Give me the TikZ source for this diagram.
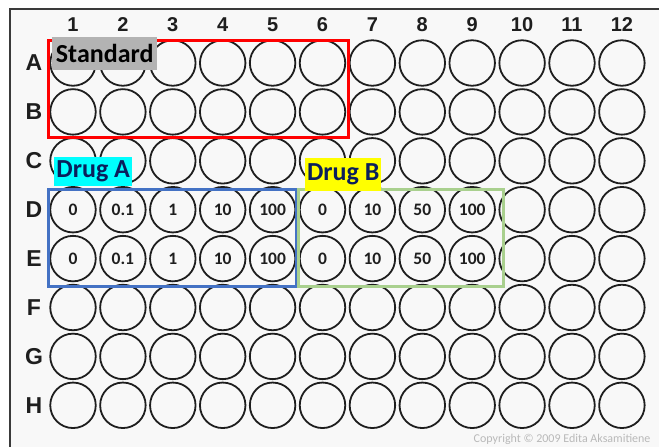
\documentclass[tikz,border=0pt]{standalone}
\usepackage{fontspec}
\setmainfont{Carlito}
\newfontfamily\platefont{Liberation Sans}
\usetikzlibrary{positioning}
\definecolor{plateBg}{HTML}{F8F8F8}
\definecolor{frameGray}{HTML}{3A3A3A}
\definecolor{wellInk}{HTML}{1E1E1E}
\definecolor{stdRed}{HTML}{FF0000}
\definecolor{drugABlue}{HTML}{4472C4}
\definecolor{drugBGreen}{HTML}{A9D08E}
\definecolor{stdGray}{HTML}{B3B3B3}
\definecolor{tagCyan}{HTML}{00FFFF}
\definecolor{tagYellow}{HTML}{FFFF00}
\definecolor{labNavy}{HTML}{0A1F5C}

\begin{document}
\begin{tikzpicture}[x=1pt, y=-1pt,
      well/.style={draw=wellInk, circle, line width=1.8pt, minimum size=45.5pt, inner sep=0pt},
      rowlab/.style={font=\platefont\fontsize{23}{26}\selectfont\bfseries, text=wellInk},
      collab/.style={font=\platefont\fontsize{20}{22}\selectfont\bfseries, text=wellInk},
      conc/.style={font=\fontsize{17.5}{19}\selectfont\bfseries, text=wellInk},
      tag/.style={anchor=north west, inner sep=0pt, font=\fontsize{26}{28}\selectfont\bfseries},
      zone/.style={line width=3pt}]
    \useasboundingbox (0,0) rectangle (659,447);
    % ---- plate body
    \fill[white] (0,0) rectangle (659,447);
    \fill[plateBg] (10,9) rectangle (659,447);
    \draw[frameGray, line width=1.5pt] (10,447) -- (10,9) -- (659,9);
    % ---- column numbers
    \foreach \c in {1,...,12}
      \node[collab] (col\c) at ({73+49.9*(\c-1)}, 25) {\c};
    % ---- rows of wells
    \foreach \r [count=\i from 0] in {A,B,C,D,E,F,G,H} {
      \node[rowlab] (lab\r) at (34, {63+48.9*\i}) {\r};
      \foreach \c in {1,...,12}
        \node[well] (\r\c) at ({73+49.9*(\c-1)}, {63+48.9*\i}) {};
    }
    % ---- concentrations
    \foreach \c/\v in {1/0, 2/0.1, 3/1, 4/10, 5/100, 6/0, 7/10, 8/50, 9/100} {
      \node[conc] (dD\c) at (D\c.center) {\v};
      \node[conc] (dE\c) at (E\c.center) {\v};
    }
    % ---- groups
    \draw[zone, stdRed] (48,40) rectangle (348,137);
    \draw[zone, drugABlue] (48,189) rectangle (296,286);
    \draw[zone, drugBGreen] (298,189) rectangle (503,286);
    \node[tag, fill=stdGray, text=black, minimum width=105pt, minimum height=33pt] (std) at (52,37) {Standard};
    \node[tag, fill=tagCyan, text=labNavy, minimum width=78pt, minimum height=29pt] (drugA) at (54,157) {Drug A};
    \node[tag, fill=tagYellow, text=labNavy, minimum width=76pt, minimum height=33pt] (drugB) at (305,158) {Drug B};
    % ---- credit
    \node[anchor=east, text=gray!55, font=\fontsize{12}{13}\selectfont] (credit) at (654,439)
      {Copyright \textcopyright{} 2009 Edita Aksamitiene};
  \end{tikzpicture}
\end{document}
